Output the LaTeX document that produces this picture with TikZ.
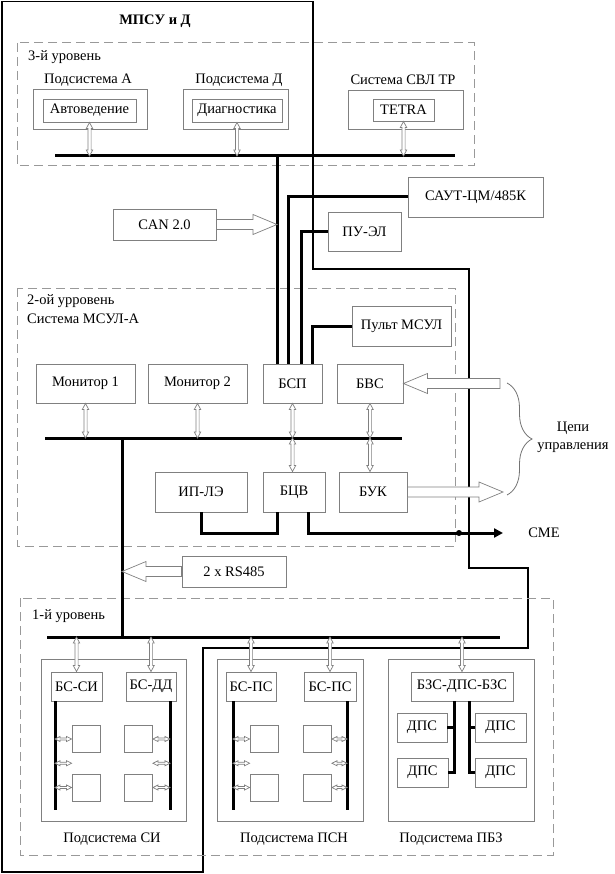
\documentclass[tikz,border=0pt]{standalone}
\usepackage{fontspec}
\setmainfont{Liberation Serif}
\usetikzlibrary{positioning, calc, arrows.meta, decorations.pathreplacing}

% small hollow double arrows (vertical: top, bottom / horizontal: left, right)
\newcommand{\varr}[2]{%
  \draw[hollow] let \p1=(#1), \p2=(#2) in
    (\x1,\y1) -- ({\x1+3.2pt},{\y1-6pt}) -- ({\x1+1.6pt},{\y1-6pt})
    -- ({\x1+1.6pt},{\y2+6pt}) -- ({\x1+3.2pt},{\y2+6pt}) -- (\x1,\y2)
    -- ({\x1-3.2pt},{\y2+6pt}) -- ({\x1-1.6pt},{\y2+6pt})
    -- ({\x1-1.6pt},{\y1-6pt}) -- ({\x1-3.2pt},{\y1-6pt}) -- cycle;}
\newcommand{\harr}[2]{%
  \draw[hollow] let \p1=(#1), \p2=(#2) in
    (\x1,\y1) -- ({\x1+5pt},{\y1+2.5pt}) -- ({\x1+5pt},{\y1+1pt})
    -- ({\x2-5pt},{\y1+1pt}) -- ({\x2-5pt},{\y1+2.5pt}) -- (\x2,\y1)
    -- ({\x2-5pt},{\y1-2.5pt}) -- ({\x2-5pt},{\y1-1pt})
    -- ({\x1+5pt},{\y1-1pt}) -- ({\x1+5pt},{\y1-2.5pt}) -- cycle;}
% big hollow arrow: tail, tip, sign (- points right, + points left)
\newcommand{\fatarr}[3]{%
  \draw[hollow] let \p1=(#1), \p2=(#2) in
    (\x1,{\y1+5pt}) -- ({\x2 #3 24pt},{\y1+5pt}) -- ({\x2 #3 24pt},{\y1+10pt})
    -- (\x2,\y1) -- ({\x2 #3 24pt},{\y1-10pt}) -- ({\x2 #3 24pt},{\y1-5pt})
    -- (\x1,{\y1-5pt}) -- cycle;}

\begin{document}
\begin{tikzpicture}[x=1pt, y=-1pt, font=\fontsize{14.5}{18}\selectfont,
    box/.style={draw=black!50, line width=0.9pt, inner sep=0pt},
    cell/.style={box, minimum width=28pt, minimum height=27pt},
    bsbox/.style={box, minimum height=29pt},
    bus/.style={line width=3pt},
    level/.style={draw=black!40, line width=1pt, dash pattern=on 9pt off 5pt},
    frame/.style={line width=1.6pt},
    hollow/.style={draw=black!50, fill=white, line width=0.7pt},
    txt/.style={inner sep=0pt}]
  \useasboundingbox (0,0) rectangle (614,874);

  % MPSU frame
  \draw[frame] (2,1.5) -- (313,1.5) -- (313,269) -- (469,269) -- (469,568)
    -- (528,568) -- (528,648) -- (203,648) -- (203,872) -- (2,872) -- cycle;
  \node[font=\fontsize{14.5}{18}\selectfont\bfseries] (title) at (155,21) {МПСУ и Д};

  % level 3
  \draw[level] (17,43) rectangle (474,166);
  \node[txt, anchor=west] (lev3) at (28,57) {3-й уровень};
  \node (podAlbl) at (88,80) {Подсистема А};
  \node (podDlbl) at (239,80) {Подсистема Д};
  \node (svllbl) at (403,80) {Система СВЛ ТР};
  \node[box, minimum width=114pt, minimum height=40pt] (podA) at (90,109) {};
  \node[box, minimum width=105pt, minimum height=40pt] (podD) at (235.5,109) {};
  \node[box, minimum width=115pt, minimum height=39pt] (svl) at (405.5,109.5) {};
  \node[box, minimum width=93pt, minimum height=23pt] (avto) at (89.5,110.5) {Автоведение};
  \node[box, minimum width=90pt, minimum height=23pt] (diag) at (237,110.5) {Диагностика};
  \node[box, minimum width=61pt, minimum height=22pt] (tetra) at (403.5,110) {TETRA};
  \coordinate (b3l) at (55,156);
  \coordinate (b3r) at (455,156);
  \draw[bus] (b3l) -- (b3r);
  \varr{avto.south}{avto.south |- b3l}
  \varr{diag.south}{diag.south |- b3l}
  \varr{tetra.south}{tetra.south |- b3l}

  % level 2
  \draw[level] (17,288) rectangle (455,546);
  \node[txt, anchor=west] (lev2) at (27,301) {2-ой урровень};
  \node[txt, anchor=west] (msul) at (27,319) {Система МСУЛ-А};
  \node[box, minimum width=135pt, minimum height=40pt] (saut) at (475.5,197) {САУТ-ЦМ/485К};
  \node[box, minimum width=73pt, minimum height=39pt] (pu) at (364.5,231.5) {ПУ-ЭЛ};
  \node[box, minimum width=103pt, minimum height=31pt] (can) at (164.5,224.5) {CAN 2.0};
  \node[box, minimum width=99pt, minimum height=40pt] (pult) at (401.5,326) {Пульт МСУЛ};
  \node[box, minimum width=99pt, minimum height=39pt] (mon1) at (85.5,383.5) {Монитор 1};
  \node[box, minimum width=99pt, minimum height=39pt] (mon2) at (197.5,383.5) {Монитор 2};
  \node[box, minimum width=59pt, minimum height=39pt] (bsp) at (292.5,383.5) {БСП};
  \node[box, minimum width=66pt, minimum height=39pt] (bvs) at (370,383.5) {БВС};
  \node[box, minimum width=92pt, minimum height=40pt] (ipl) at (201,492) {ИП-ЛЭ};
  \node[box, minimum width=62pt, minimum height=40pt] (bcv) at (294,492) {БЦВ};
  \node[box, minimum width=68pt, minimum height=40pt] (buk) at (373,492) {БУК};
  \node[box, minimum width=104pt, minimum height=31pt] (rs) at (234,571.5) {2 x RS485};

  \coordinate (v1) at ([xshift=-15.5pt]bsp.north);
  \draw[bus] (v1) -- (v1 |- b3l);
  \draw[bus] ([xshift=-4.5pt]bsp.north) |- (saut.west);
  \draw[bus] ([xshift=8.5pt]bsp.north) |- (pu.west);
  \draw[bus] ([xshift=19.5pt]bsp.north) |- (pult.west);
  \fatarr{can.east}{can.east -| v1}{-}

  \coordinate (b2l) at (45,438);
  \coordinate (b2r) at (402,438);
  \coordinate (b2d) at (122,438);
  \draw[bus] (b2l) -- (b2r);
  \varr{mon1.south}{mon1.south |- b2l}
  \varr{mon2.south}{mon2.south |- b2l}
  \varr{bsp.south}{bsp.south |- b2l}
  \varr{bvs.south}{bvs.south |- b2l}
  \varr{bsp.south |- b2l}{bsp.south |- bcv.north}
  \varr{bvs.south |- b2l}{bvs.south |- buk.north}

  \draw[bus] (ipl.south) -- ++(0,21) -| ([xshift=-17pt]bcv.south);
  \coordinate (cmeend) at (503,533);
  \coordinate (dot) at (459,533);
  \draw[bus, -{Triangle[length=9pt,width=9pt]}] ([xshift=14pt]bcv.south) |- (cmeend);
  \fill (dot) circle (3pt);
  \node (cme) at (544,533) {СМЕ};

  % control circuits
  \coordinate (ctlin) at (500,383.5);
  \coordinate (ctlout) at (503,492);
  \fatarr{ctlin}{bvs.east}{+}
  \fatarr{buk.east}{ctlout}{-}
  \coordinate (brt) at (507,383);
  \coordinate (brb) at (507,495);
  \draw[draw=black!55, line width=0.8pt, decorate, decoration={brace, amplitude=25pt}] (brt) -- (brb);
  \node[align=center] (ctl) at (573,437) {Цепи\\управления};

  % level 1
  \draw[level] (20,598) rectangle (553,855);
  \node[txt, anchor=west] (lev1) at (32,616) {1-й уровень};
  \coordinate (b1l) at (47,637);
  \coordinate (b1r) at (500,637);
  \draw[bus] (b2d) -- (b2d |- b1l);
  \fatarr{rs.west}{rs.west -| b2d}{+}
  \draw[bus] (b1l) -- (b1r);

  % subsystem SI
  \node[box, minimum width=145pt, minimum height=162pt] (si) at (113.5,740) {};
  \node[bsbox, minimum width=51pt] (bssi) at (76.5,686.5) {БС-СИ};
  \node[bsbox, minimum width=50pt] (bsdd) at (151,686.5) {БС-ДД};
  \node[cell] (si1) at (86,739) {};
  \node[cell] (si2) at (86,787.5) {};
  \node[cell] (si3) at (138.5,739) {};
  \node[cell] (si4) at (138.5,787.5) {};
  \node (silbl) at (112,839) {Подсистема СИ};
  \coordinate (sil) at ([xshift=-21.5pt]bssi.south);
  \coordinate (sir) at ([xshift=19pt]bsdd.south);
  \coordinate (siml) at ($(si1.west)!0.5!(si2.west)$);
  \coordinate (simr) at ($(si3.east)!0.5!(si4.east)$);
  \draw[bus] (sil) -- ++(0,109);
  \draw[bus] (sir) -- ++(0,109);
  \varr{bssi.north |- b1l}{bssi.north}
  \varr{bsdd.north |- b1l}{bsdd.north}
  \harr{sil |- si1.west}{si1.west}
  \harr{sil |- siml}{siml}
  \harr{sil |- si2.west}{si2.west}
  \harr{si3.east}{sir |- si3.east}
  \harr{simr}{sir |- simr}
  \harr{si4.east}{sir |- si4.east}

  % subsystem PSN
  \node[box, minimum width=146pt, minimum height=162pt] (psn) at (290,740) {};
  \node[bsbox, minimum width=50pt] (bsps1) at (251,686.5) {БС-ПС};
  \node[bsbox, minimum width=52pt] (bsps2) at (330,686.5) {БС-ПС};
  \node[cell] (ps1) at (264,739) {};
  \node[cell] (ps2) at (264,787.5) {};
  \node[cell] (ps3) at (317.5,739) {};
  \node[cell] (ps4) at (317.5,787.5) {};
  \node (psnlbl) at (294,839) {Подсистема ПСН};
  \coordinate (psl) at ([xshift=-18pt]bsps1.south);
  \coordinate (psr) at ([xshift=17pt]bsps2.south);
  \coordinate (psml) at ($(ps1.west)!0.5!(ps2.west)$);
  \coordinate (psmr) at ($(ps3.east)!0.5!(ps4.east)$);
  \draw[bus] (psl) -- ++(0,109);
  \draw[bus] (psr) -- ++(0,109);
  \varr{bsps1.north |- b1l}{bsps1.north}
  \varr{bsps2.north |- b1l}{bsps2.north}
  \harr{psl |- ps1.west}{ps1.west}
  \harr{psl |- psml}{psml}
  \harr{psl |- ps2.west}{ps2.west}
  \harr{ps3.east}{psr |- ps3.east}
  \harr{psmr}{psr |- psmr}
  \harr{ps4.east}{psr |- ps4.east}

  % subsystem PBZ
  \node[box, minimum width=146pt, minimum height=162pt] (pbz) at (461,740) {};
  \node[bsbox, minimum width=102pt] (bzs) at (462,686.5) {БЗС-ДПС-БЗС};
  \node[bsbox, minimum width=50pt] (dps1) at (422,727.5) {ДПС};
  \node[bsbox, minimum width=51pt] (dps2) at (422.5,772.5) {ДПС};
  \node[bsbox, minimum width=51pt] (dps3) at (500.5,727.5) {ДПС};
  \node[bsbox, minimum width=51pt] (dps4) at (500.5,772.5) {ДПС};
  \node (pbzlbl) at (451,839) {Подсистема ПБЗ};
  \coordinate (pzl) at ([xshift=-8pt]bzs.south);
  \coordinate (pzr) at ([xshift=7pt]bzs.south);
  \draw[bus] (pzl) |- (dps2.east);
  \draw[bus] (dps1.east) -- (dps1.east -| pzl);
  \draw[bus] (pzr) |- (dps4.west);
  \draw[bus] (dps3.west) -- (dps3.west -| pzr);
  \varr{bzs.north |- b1l}{bzs.north}
\end{tikzpicture}
\end{document}
